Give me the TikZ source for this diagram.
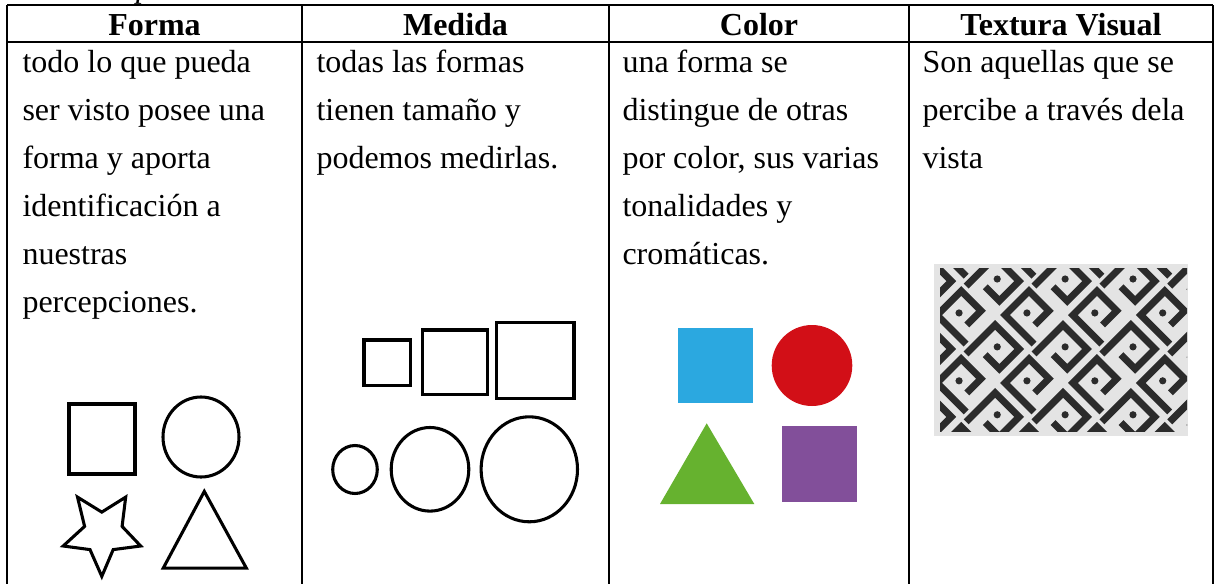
\documentclass[tikz,border=0pt]{standalone}
\usepackage{fontspec}
\setmainfont{Liberation Serif}
\usetikzlibrary{calc,positioning}

\definecolor{shapeblue}{HTML}{2BA8E0}
\definecolor{shapered}{HTML}{D20F17}
\definecolor{shapegreen}{HTML}{66B22F}
\definecolor{shapepurple}{HTML}{824F9A}
\definecolor{texturebg}{HTML}{E4E4E4}
\definecolor{textureink}{HTML}{2B2B2B}

\tikzset{
  grid line/.style={line width=0.9pt},
  head/.style={font=\fontsize{12}{18}\selectfont\bfseries, anchor=base, inner sep=0pt},
  cell text/.style={font=\fontsize{12}{18}\selectfont, anchor=base west, inner sep=0pt},
  outline shape/.style={draw, line width=1.15pt},
  meander/.style={draw=textureink, line width=2.6pt},
}

\begin{document}
\begin{tikzpicture}[x=0.375pt,y=-0.375pt]

  \useasboundingbox (0,0) rectangle (1216,583);
  \clip (0,0) rectangle (1216,583);

  \node [cell text, anchor=base, font=\fontsize{12}{18}\selectfont\itshape] at(144,-3) (caption) {p};

  % table rules
  \draw [grid line] (7,5) -- (1213,5) (7,42) -- (1213,42);
  \foreach \x in {7,302,609,909,1213}
  {
    \draw [grid line] (\x,5) -- (\x,590);
  }

  \foreach \title/\cx [count=\n] in {Forma/154.5,Medida/455.5,Color/759,Textura Visual/1061}
  {
    \node [head] at(\cx,35) (head_\n) {\title};
  }

  \foreach \line [count=\i] in {todo lo que pueda,ser visto posee una,forma y aporta,identificación a,nuestras,percepciones.}
  {
    \node [cell text] at(22,24+48*\i) (forma_line_\i) {\line};
  }
  \foreach \line [count=\i] in {todas las formas,tienen tamaño y,podemos medirlas.}
  {
    \node [cell text] at(316,24+48*\i) (medida_line_\i) {\line};
  }
  \foreach \line [count=\i] in {una forma se,distingue de otras,{por color, sus varias},tonalidades y,cromáticas.}
  {
    \node [cell text] at(622,24+48*\i) (color_line_\i) {\line};
  }
  \foreach \line [count=\i] in {Son aquellas que se,percibe a través dela,vista}
  {
    \node [cell text] at(922,24+48*\i) (textura_line_\i) {\line};
  }

  % forma
  \draw [outline shape] (69,404) rectangle (135,474);
  \draw [outline shape] (201,437) circle [x radius=38, y radius=40];
  \draw [outline shape] (101.8,576.4) -- (113.2,549.6) -- (140.7,546) -- (122.1,526.4) -- (125.7,497.1)
    -- (101.8,512.1) -- (77.5,497.1) -- (84.6,526.4) -- (63.2,546) -- (90,549.6) -- cycle;
  \draw [outline shape] (204.3,491.4) -- (246.4,568.2) -- (163.2,568.2) -- cycle;

  % medida
  \draw [outline shape] (364,340) rectangle (410.7,385.3);
  \draw [outline shape] (422.3,330) rectangle (487.7,394.3);
  \draw [outline shape] (496.7,322.7) rectangle (574,398.7);
  \draw [outline shape] (355,469.5) circle [x radius=22.3, y radius=24];
  \draw [outline shape] (430,469.3) circle [x radius=38.8, y radius=41.8];
  \draw [outline shape] (529.3,469.3) circle [x radius=48.2, y radius=52.5];

  % color
  \fill [shapeblue] (677.7,328.3) rectangle (753.3,403.3);
  \fill [shapered] (812,365.5) circle [x radius=40.3, y radius=40.5];
  \fill [shapegreen] (706.7,423.3) -- (754.3,504) -- (660,504) -- cycle;
  \fill [shapepurple] (781.7,426) rectangle (857.3,501.7);

  % textura
  \fill [texturebg] (934,264) rectangle (1188,436);
  \begin{scope}
    \clip (940,268) rectangle (1187,431);
    \foreach \i in {-4,...,4}
    {
      \foreach \j in {-4,...,4}
      {
        \begin{scope}[shift={(1063,349)}, rotate=45, shift={(48*\i,48*\j)}, rotate={90*mod(\i+\j+10,2)}]
          \draw [meander] (-24,-17) -- (17,-17) -- (17,17) -- (-11,17) -- (-11,-3);
          \fill [textureink] (3,0) circle [radius=3.6];
        \end{scope}
      }
    }
  \end{scope}

\end{tikzpicture}
\end{document}
